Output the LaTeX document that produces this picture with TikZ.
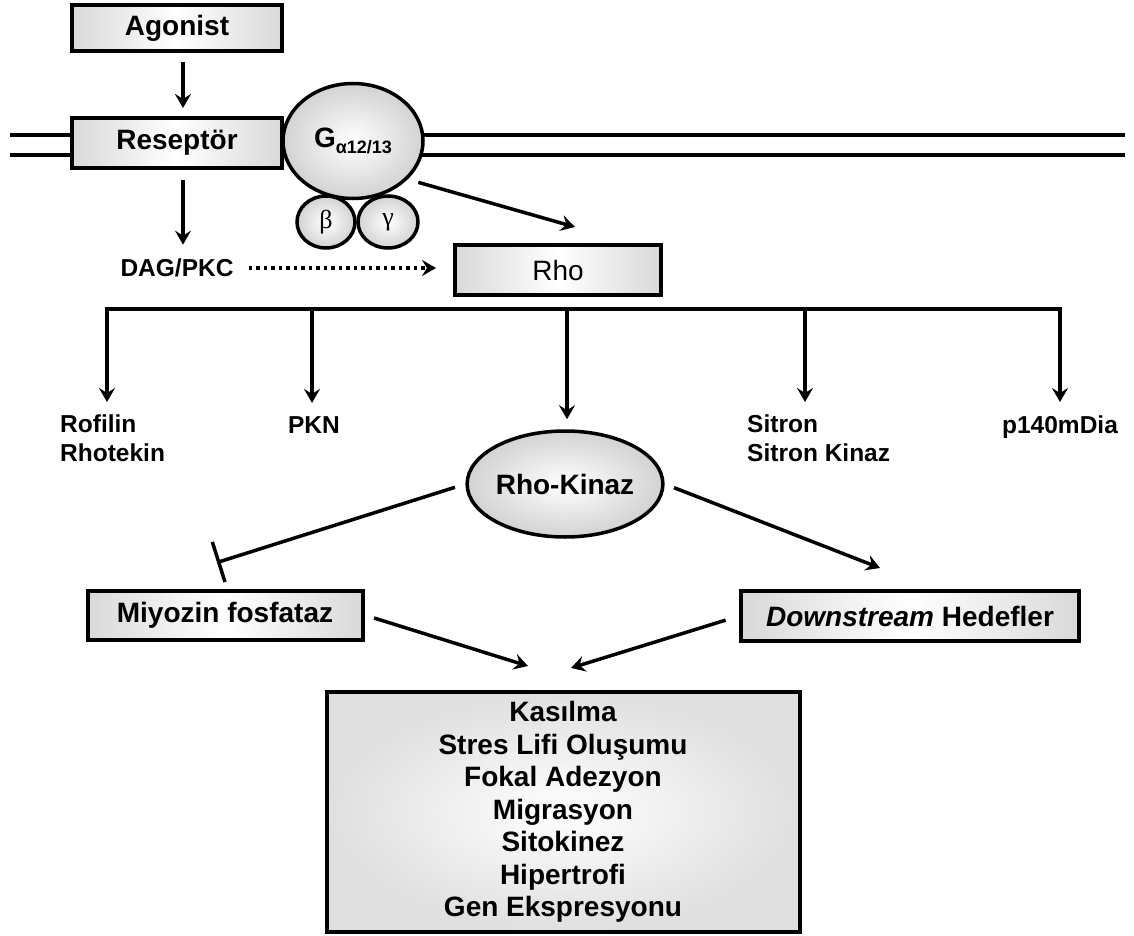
\documentclass[tikz,border=0pt]{standalone}
\usepackage{fontspec}
\setmainfont{Liberation Sans}
\newfontfamily\grfont{Liberation Serif}
\usetikzlibrary{arrows.meta,shapes.geometric}
\tikzset{
  box/.style={draw, line width=4pt, left color=gray!30, right color=gray!30, middle color=white,
    inner sep=0pt, font=\fontsize{28}{32}\selectfont\bfseries},
  blob/.style={ellipse, draw, line width=3.5pt, inner color=white, outer color=gray!35, inner sep=0pt},
  lbl/.style={inner sep=0pt, align=left, font=\fontsize{24.5}{29}\selectfont\bfseries},
  arr/.style={line width=3.5pt, -{Stealth[length=14pt,width=16pt,inset=5pt]}}
}
\begin{document}
\begin{tikzpicture}[x=1pt,y=-1pt]
\useasboundingbox (0,0) rectangle (1134,936);
% membrane
\draw[line width=4pt] (10,135) -- (1125,135) (10,155) -- (1125,155);
\node[box, minimum width=210, minimum height=46] (ago) at (177,28) {Agonist};
\node[box, minimum width=210, minimum height=50] (rec) at (177,143) {Reseptör};
\node[blob, minimum width=58, minimum height=52, font=\grfont\fontsize{26}{26}\selectfont] (beta) at (326,222) {β};
\node[blob, minimum width=60, minimum height=52, font=\grfont\fontsize{26}{26}\selectfont] (gam) at (388,222) {γ};
\node[blob, minimum width=140, minimum height=115, font=\fontsize{28}{28}\selectfont\bfseries] (gal) at (353,141)
  {G\raisebox{-6pt}{\fontsize{18}{18}\selectfont α12/13}};
\node[lbl] (dag) at (177,268) {DAG/PKC};
\node[box, minimum width=206, minimum height=50, font=\fontsize{28}{32}\selectfont] (rho) at (558,270) {Rho};

\draw[arr, shorten <=9pt, shorten >=8pt] ([xshift=6pt]ago.south) -- ([xshift=6pt]rec.north);
\draw[arr, shorten <=10pt, shorten >=14pt] ([xshift=6pt]rec.south) -- ([xshift=6pt]rec.south |- dag.north);
\draw[arr, shorten <=11pt] (gal.-35) -- ([xshift=17pt,yshift=16pt]rho.north);
\draw[arr, dash pattern=on 3.5pt off 4pt, shorten <=15pt, shorten >=17pt] (dag.east) -- (dag.east -| rho.west);

% Rho effectors
\coordinate (b1) at (107,309);
\coordinate (b2) at (312,309);
\coordinate (b3) at (567,309);
\coordinate (b4) at (805,309);
\coordinate (b5) at (1060,309);
\draw[line width=4pt, line cap=rect] (b1) -- (b5);
\node[lbl, anchor=north west] (rof) at (60,415) {Rofilin\\Rhotekin};
\node[lbl, anchor=base] (pkn) at (314,433) {PKN};
\node[lbl, anchor=north west] (sit) at (747,415) {Sitron\\Sitron Kinaz};
\node[lbl, anchor=base] (mdia) at (1060,433) {p140mDia};
\node[blob, minimum width=180, minimum height=106, font=\fontsize{28}{28}\selectfont\bfseries] (rk) at (565,484) {Rho-Kinaz};
\draw[arr, shorten >=13pt] (b1) -- (b1 |- rof.north);
\draw[arr, shorten >=13pt] (b2) -- (b2 |- pkn.north);
\draw[arr, shorten >=10pt] (b3) -- (b3 |- rk.north);
\draw[arr, shorten >=13pt] (b4) -- (b4 |- sit.north);
\draw[arr, shorten >=13pt] (b5) -- (b5 |- mdia.north);

\node[box, minimum width=275, minimum height=49] (miy) at (225,615) {Miyozin fosfataz};
\node[box, minimum width=338, minimum height=50] (ds) at (910,616) {\textit{Downstream} Hedefler};
\node[draw, line width=4pt, inner color=white, outer color=gray!25, minimum width=473, minimum height=240,
  align=center, font=\fontsize{28}{32.5}\selectfont\bfseries] (res) at (563,812)
  {Kasılma\\Stres Lifi Oluşumu\\Fokal Adezyon\\Migrasyon\\Sitokinez\\Hipertrofi\\Gen Ekspresyonu};

\draw[line width=3.5pt, -{Bar[width=42pt,line width=3.5pt]}, shorten <=11pt] (rk.west) -- ([xshift=-8pt,yshift=26pt]miy.north);
\draw[arr, shorten <=10pt] (rk.east) -- ([xshift=-30pt,yshift=21pt]ds.north);
\draw[arr, shorten <=10pt] (miy.east) -- ([xshift=-35pt,yshift=24pt]res.north);
\draw[arr, shorten <=14pt] (ds.west) -- ([xshift=8pt,yshift=22pt]res.north);
\end{tikzpicture}
\end{document}
